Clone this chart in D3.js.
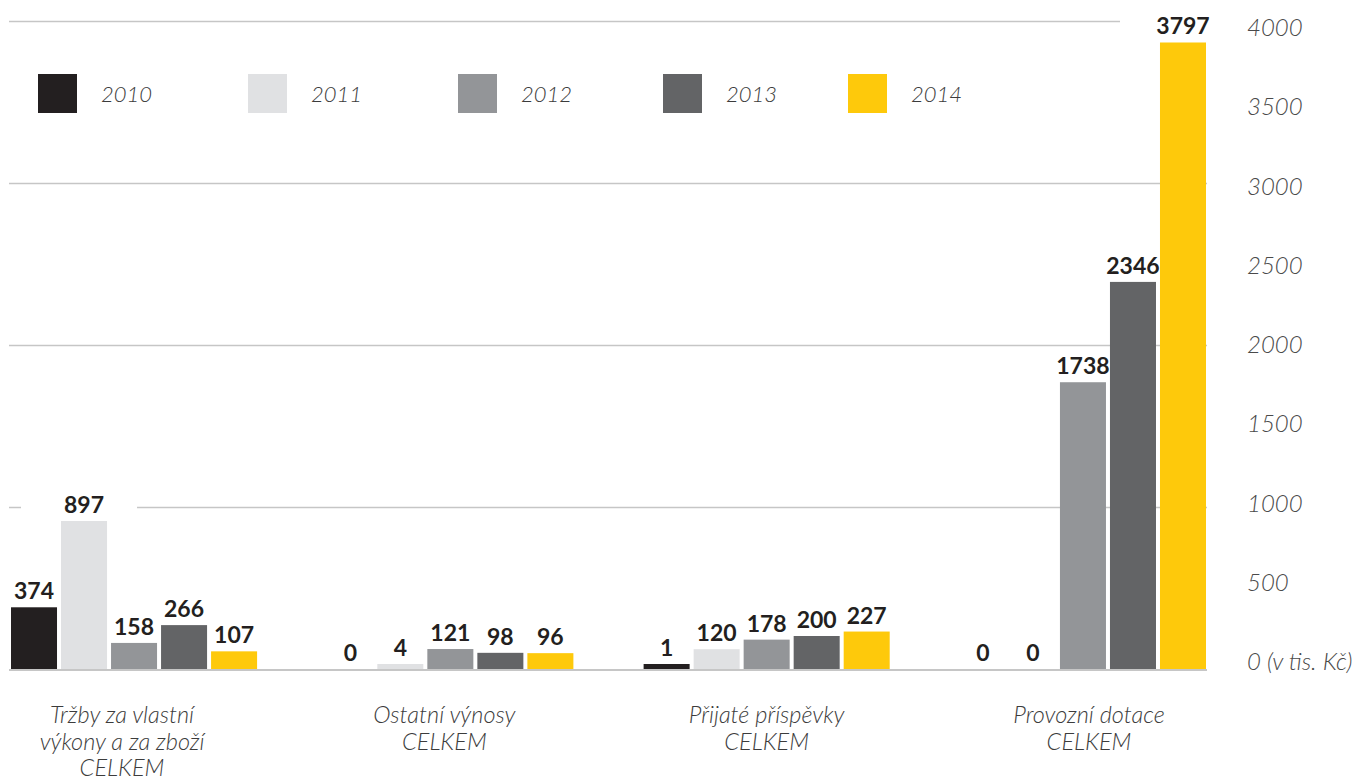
<!DOCTYPE html>
<meta charset="utf-8">
<script src="https://d3js.org/d3.v7.min.js"></script>
<style>
  body { margin: 0; background: #fff; }
</style>
<div id="chart"></div>
<script>
// data
var categories = [
  ["Tržby za vlastní", "výkony a za zboží", "CELKEM"],
  ["Ostatní výnosy", "CELKEM"],
  ["Přijaté příspěvky", "CELKEM"],
  ["Provozní dotace", "CELKEM"]
];
var years = ["2010", "2011", "2012", "2013", "2014"];
var v2010 = [374, 0, 1, 0];
var v2011 = [897, 4, 120, 0];
var v2012 = [158, 121, 178, 1738];
var v2013 = [266, 98, 200, 2346];
var v2014 = [107, 96, 227, 3797];
var axisTicks = [0, 500, 1000, 1500, 2000, 2500, 3000, 3500, 4000];
var gridTicks = [1000, 2000, 3000, 4000];
var colors = ["#231f20", "#e0e1e3", "#939598", "#636466", "#fec90b"];

var series = [v2010, v2011, v2012, v2013, v2014];
var catIdx = d3.range(categories.length);

var width = 1358, height = 781;

var svg = d3.select("#chart").append("svg")
  .attr("width", width)
  .attr("height", height);

// scales
var x0 = d3.scaleBand()
  .domain(catIdx)
  .range([11, 1206])
  .paddingInner(0.222)
  .paddingOuter(0);

var x1 = d3.scaleBand()
  .domain(years)
  .range([0, x0.bandwidth()])
  .paddingInner(0.08);

// bars, grid and tick text were not drawn on one common scale in the original
var yBar = d3.scaleLinear().domain([0, 4000]).range([669, 9]);
var yGrid = d3.scaleLinear().domain([0, 4000]).range([669, 21]);
var yLab = d3.scaleLinear().domain([0, 4000]).range([670, 36]);
var xLab = d3.scalePoint().domain(catIdx).range([122, 1089]);

// gridlines
svg.append("g").selectAll("line")
  .data(gridTicks)
  .enter().append("line")
    .attr("x1", 9)
    .attr("x2", 1207)
    .attr("y1", function(d) { return yGrid(d) + 0.5; })
    .attr("y2", function(d) { return yGrid(d) + 0.5; })
    .style("stroke", "#c6c6c6")
    .style("stroke-width", 1.3);

// right axis labels
svg.append("g").selectAll("text")
  .data(axisTicks)
  .enter().append("text")
    .attr("x", 1247)
    .attr("y", function(d) { return yLab(d); })
    .style("font-family", "Lato, 'Open Sans', sans-serif")
    .style("font-style", "italic")
    .style("font-weight", 300)
    .style("font-size", "24px")
    .style("fill", "#4a4a4a")
    .text(function(d) { return d === 0 ? "0 (v tis. Kč)" : d; });

// flatten to one record per bar
var bars = [];
catIdx.forEach(function(c) {
  years.forEach(function(yr, i) {
    bars.push({cat: c, year: yr, i: i, value: series[i][c]});
  });
});

var barTop = function(d) {
  if (d.value === 0) return yBar(0);
  return Math.min(yBar(d.value), yBar(0) - 5);
};

// white knockouts behind the value labels hide the gridlines
var labels = svg.append("g");
labels.selectAll("rect")
  .data(bars)
  .enter().append("rect")
    .attr("x", function(d) { return x0(d.cat) + x1(d.year) - 40; })
    .attr("y", function(d) { return barTop(d) - 28; })
    .attr("width", x1.bandwidth() + 70)
    .attr("height", 24)
    .style("fill", "#fff");

var g = svg.append("g");
g.selectAll("rect")
  .data(bars.filter(function(d) { return d.value > 0; }))
  .enter().append("rect")
    .attr("x", function(d) { return x0(d.cat) + x1(d.year); })
    .attr("y", barTop)
    .attr("width", x1.bandwidth())
    .attr("height", function(d) { return yBar(0) - barTop(d); })
    .style("fill", function(d) { return colors[d.i]; });

// baseline
svg.append("line")
  .attr("x1", 9)
  .attr("x2", 1207)
  .attr("y1", yBar(0) + 1)
  .attr("y2", yBar(0) + 1)
  .style("stroke", "#c6c6c6")
  .style("stroke-width", 2);

labels.selectAll("text")
  .data(bars)
  .enter().append("text")
    .attr("x", function(d) { return x0(d.cat) + x1(d.year) + x1.bandwidth() / 2; })
    .attr("y", function(d) { return barTop(d) - 8; })
    .attr("text-anchor", "middle")
    .style("font-family", "Lato, 'Open Sans', sans-serif")
    .style("font-weight", 700)
    .style("font-size", "23px")
    .style("fill", "#231f20")
    .text(function(d) { return d.value; });

// category labels
var cl = svg.append("g").selectAll("text")
  .data(catIdx)
  .enter().append("text")
    .attr("x", function(d) { return xLab(d); })
    .attr("y", 723)
    .attr("text-anchor", "middle")
    .style("font-family", "Lato, 'Open Sans', sans-serif")
    .style("font-style", "italic")
    .style("font-weight", 300)
    .style("font-size", "23.5px")
    .style("fill", "#3c3c3c");

cl.each(function(d) {
  var t = d3.select(this);
  categories[d].forEach(function(line, k) {
    t.append("tspan")
      .attr("x", xLab(d))
      .attr("dy", k === 0 ? 0 : 26.5)
      .text(line);
  });
});

// legend
var legendX = [38, 248, 458, 663, 848];
var legend = svg.append("g").selectAll("g")
  .data(years)
  .enter().append("g")
    .attr("transform", function(d, i) { return "translate(" + legendX[i] + ",74)"; });

legend.append("rect")
  .attr("width", 39)
  .attr("height", 39)
  .style("fill", function(d, i) { return colors[i]; });

legend.append("text")
  .attr("x", 63)
  .attr("y", 28)
  .style("font-family", "Lato, 'Open Sans', sans-serif")
  .style("font-style", "italic")
  .style("font-weight", 300)
  .style("font-size", "22px")
  .style("fill", "#3c3c3c")
  .text(function(d) { return d; });
</script>
